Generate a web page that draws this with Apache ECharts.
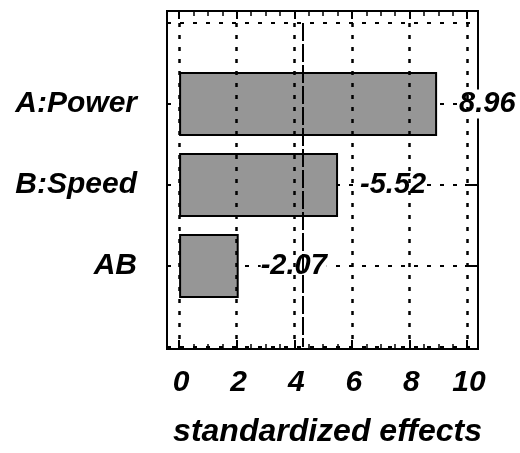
<!DOCTYPE html>
<html>
<head>
<meta charset="utf-8">
<script src="https://cdn.jsdelivr.net/npm/echarts@6/dist/echarts.min.js"></script>
<style>
html,body{margin:0;padding:0;background:#fff;}
#c{width:520px;height:453px;}
</style>
</head>
<body>
<div id="c"></div>
<script>
// ---- data ----
var categories = ['A:Power', 'B:Speed', 'AB'];
var effects = [8.96, -5.52, -2.07];
var xTicks = [0, 2, 4, 6, 8, 10];
var xMinorTicks = [0.5, 1, 1.5, 2.5, 3, 3.5, 4.5, 5, 5.5, 6.5, 7, 7.5, 8.5, 9, 9.5];
var criticalValue = 4.30;
var xTitle = 'standardized effects';

var FONT = '"Liberation Sans", Arial, sans-serif';
var xMin = -0.42, xMax = 10.38;

var catData = [''].concat(categories).concat(['']);
var barData = [null].concat(effects.map(function (e) { return Math.abs(e); })).concat([null]);

var chart = echarts.init(document.getElementById('c'), null, {renderer: 'canvas'});

function tickInterval(i, v) { return v !== ''; }

var option = {
  backgroundColor: '#fff',
  animation: false,
  grid: [
    {left: 167, right: 42, top: 11, bottom: 93, show: true, borderColor: '#000', borderWidth: 2, backgroundColor: 'transparent'},
    {left: 167, right: 42, top: 23, bottom: 106}
  ],
  xAxis: [
    {
      gridIndex: 0, type: 'value', position: 'bottom', min: xMin, max: xMax,
      axisLine: {show: false},
      axisTick: {show: true, inside: true, length: 9, customValues: xTicks, lineStyle: {color: '#000', width: 2}},
      axisLabel: {show: true, customValues: xTicks, margin: 19, color: '#000', fontSize: 30, fontWeight: 'bold', fontStyle: 'italic', fontFamily: FONT, padding: [0, 0, 0, 4]},
      splitLine: {show: false},
      name: xTitle, nameLocation: 'middle', nameGap: 67,
      nameTextStyle: {color: '#000', fontSize: 32, fontWeight: 'bold', fontStyle: 'italic', fontFamily: FONT, padding: [0, 0, 0, 10]}
    },
    {
      gridIndex: 0, type: 'value', position: 'top', min: xMin, max: xMax,
      axisLine: {show: false},
      axisTick: {show: true, inside: true, length: 8, customValues: xTicks, lineStyle: {color: '#000', width: 2}},
      axisLabel: {show: false},
      splitLine: {show: false}
    },
    {
      gridIndex: 0, type: 'value', position: 'bottom', min: xMin, max: xMax,
      axisLine: {show: false},
      axisTick: {show: true, inside: true, length: 5, customValues: xMinorTicks, lineStyle: {color: '#000', width: 1.5}},
      axisLabel: {show: false},
      splitLine: {show: false}
    },
    {
      gridIndex: 0, type: 'value', position: 'top', min: xMin, max: xMax,
      axisLine: {show: false},
      axisTick: {show: true, inside: true, length: 5, customValues: xMinorTicks, lineStyle: {color: '#000', width: 1.5}},
      axisLabel: {show: false},
      splitLine: {show: false}
    },
    {
      gridIndex: 1, type: 'value', min: xMin, max: xMax, show: false,
      splitLine: {show: false}
    }
  ],
  yAxis: [
    {gridIndex: 0, type: 'value', show: false, min: 0, max: 1},
    {
      gridIndex: 1, type: 'category', data: catData, boundaryGap: false, inverse: true, position: 'left',
      axisLine: {show: false},
      axisTick: {show: true, inside: true, length: 13, interval: tickInterval, lineStyle: {color: '#000', width: 2}},
      axisLabel: {show: true, interval: tickInterval, margin: 30, color: '#000', fontSize: 30, fontWeight: 'bold', fontStyle: 'italic', fontFamily: FONT},
      splitLine: {show: true, interval: 0, lineStyle: {color: '#000', width: 2, type: [4, 9]}}
    },
    {
      gridIndex: 1, type: 'category', data: catData, boundaryGap: false, inverse: true, position: 'right',
      axisLine: {show: false},
      axisTick: {show: true, inside: true, length: 13, interval: tickInterval, lineStyle: {color: '#000', width: 2}},
      axisLabel: {show: false},
      splitLine: {show: false}
    }
  ],
  series: [
    {
      name: 'grid', type: 'line', xAxisIndex: 4, yAxisIndex: 1, data: [], z: 1,
      markLine: {
        silent: true, symbol: 'none', label: {show: false},
        lineStyle: {color: '#000', width: 2.5, type: [4, 8]},
        data: xTicks.map(function (t) { return {xAxis: t}; })
      }
    },
    {
      name: 'effects', type: 'bar', xAxisIndex: 4, yAxisIndex: 1, data: barData, barWidth: 64, z: 2,
      itemStyle: {color: '#969696', borderColor: '#000', borderWidth: 2},
      label: {
        show: true, position: 'right', distance: 22,
        color: '#000', fontSize: 29, fontWeight: 'bold', fontStyle: 'italic', fontFamily: FONT,
        backgroundColor: '#fff', padding: [0, 0],
        formatter: function (p) { return String(effects[p.dataIndex - 1]); }
      }
    },
    {
      name: 'critical', type: 'line', xAxisIndex: 4, yAxisIndex: 1, data: [], z: 5,
      markLine: {
        silent: true, symbol: 'none', label: {show: false}, z: 5,
        lineStyle: {color: '#000', width: 2, type: [18, 3]},
        data: [{xAxis: criticalValue}]
      }
    }
  ]
};
chart.setOption(option);
</script>
</body>
</html>
